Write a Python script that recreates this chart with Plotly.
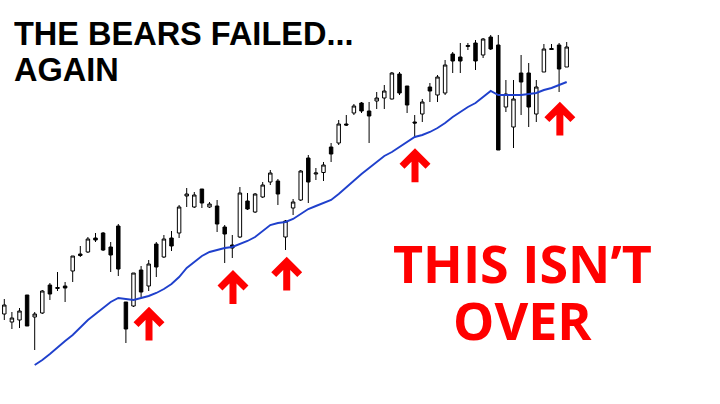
import plotly.graph_objects as go

# ---- data (price units are arbitrary) ----
opens = [90, 82, 84, 109, 87, 91, 119, 115.5, 118, 133, 150, 152, 166, 171, 157, 178, 102, 98, 134, 118,
         160, 147, 166, 171, 208, 197, 215, 197, 198, 177, 159, 167, 203, 192, 207, 222, 223, 167, 196, 204,
         246, 230, 231.5, 257, 261, 280, 291, 301, 293, 303, 306, 305, 330, 318, 282, 290, 317, 309, 311, 350,
         347, 357.5, 361, 349, 367, 359, 297, 277, 331, 331, 290, 332, 355.5, 359, 337]
highs = [105, 92, 96, 109, 92, 114, 121, 132, 122, 148, 158, 167, 171, 172, 162, 180, 102, 131, 138, 144,
         162, 169, 173, 199, 216, 212, 215, 202, 204, 179, 169, 217, 211, 211, 222, 234, 225, 184, 205, 234,
         249, 236, 242, 261, 284, 289, 300, 302, 302, 312, 319, 332, 332, 318, 289, 305, 321, 329, 344, 352,
         361, 361, 364, 366, 369, 369, 324, 324, 349, 341, 324, 360, 360, 361, 362]
lows = [84, 75, 76, 78, 54, 90, 104, 113, 102, 122, 147, 151, 162, 153, 132, 128, 61, 97, 107, 113,
        127, 146, 153, 166, 197, 196, 196, 196, 172, 141, 146, 166, 194, 191, 206, 219, 199, 154, 189, 203,
        201, 224, 223, 242, 259, 278, 289, 291, 261, 295, 295, 304.5, 309, 291, 266, 282, 302, 302, 309, 331,
        331, 354, 334, 346, 354, 254, 292, 256, 289, 277, 282, 332, 354, 312, 337]
closes = [99, 86, 93, 78, 90, 113, 110, 116.5, 116, 148, 148.5, 165, 164, 154, 149, 135, 75, 131, 112, 140,
          137, 165, 158, 197, 210, 209, 201, 200, 180, 170, 156, 211, 195, 210, 219, 231, 210, 183, 202, 233,
          222, 231, 239, 250, 280, 279, 298, 293, 288, 306, 313, 331, 311, 299, 281, 302, 313, 327, 339, 343,
          343, 358.5, 343, 365, 355, 254, 310, 305, 322, 297, 317, 355, 354.5, 335, 357]

# moving average, starting at candle 4
ma_start = 4
ma_values = [39, 44, 50, 57, 63, 69, 77, 84, 90, 96, 102, 106, 105, 104, 106, 108, 111, 115, 120, 127,
             136, 142, 148, 152, 154, 156, 157, 160, 163, 167, 173, 179, 181, 182, 185, 190, 195, 198, 201, 204,
             210, 217, 224, 230, 236, 242, 248, 252, 257, 262, 267, 269, 272, 276, 281, 287, 292, 297, 301, 307,
             313, 309, 309, 309, 309, 310, 311, 314, 316, 319, 322]

# arrows: candle index and tip price
arrow_idx = [19.04, 30.09, 37.16, 54.04, 73.1]
arrow_tip = [92.4, 129, 142.4, 250.7, 297.4]

title_lines = ["THE BEARS FAILED...", "AGAIN"]
slogan_lines = ["THIS ISN\u2019T", "OVER"]

# ---- figure ----
n = len(opens)
xs = list(range(n))
PX = 7.6  # pixels per candle step

fig = go.Figure()
fig.add_trace(go.Candlestick(
    x=xs, open=opens, high=highs, low=lows, close=closes,
    increasing=dict(line=dict(color="#000000", width=1), fillcolor="#ffffff"),
    decreasing=dict(line=dict(color="#000000", width=1), fillcolor="#000000"),
    whiskerwidth=0, hoverinfo="skip", showlegend=False,
))
fig.add_trace(go.Scatter(
    x=list(range(ma_start, ma_start + len(ma_values))), y=ma_values,
    mode="lines", line=dict(color="#1f40cc", width=1.9), hoverinfo="skip", showlegend=False,
))

# arrow outline in pixel offsets relative to anchor (y down)
h = 3.5
a = 13.0
d = h * 2 ** 0.5 / 2
poly = [(0, -h * 2 ** 0.5), (a + d, a - d), (a - d, a + d), (h, h + h * 2 ** 0.5), (h, 29),
        (-h, 29), (-h, h + h * 2 ** 0.5), (-(a - d), a + d), (-(a + d), a - d)]
for ix, tp in zip(arrow_idx, arrow_tip):
    pts = [(ix + dx / PX, tp - dy) for dx, dy in poly]
    path = "M " + " L ".join(f"{px:.3f},{py:.3f}" for px, py in pts) + " Z"
    fig.add_shape(type="path", path=path, xref="x", yref="y",
                  fillcolor="#ff0000", line=dict(width=0), layer="above")

# texts (fixed box heights so the two lines of each block sit tight)
title_font = dict(family="Liberation Sans, Arial, sans-serif", size=32.5, color="#000000")
slogan_font = dict(family="Open Sans, Noto Sans, sans-serif", size=52, color="#ff0000")
for txt, yc in zip(title_lines, [34, 70]):
    fig.add_annotation(text=f"<b>{txt}</b>", xref="paper", yref="paper",
                       x=12 / 720, y=1 - yc / 404, xanchor="left", yanchor="middle",
                       height=34, valign="middle", showarrow=False, font=title_font)
for txt, yc in zip(slogan_lines, [262, 319]):
    fig.add_annotation(text=f"<b>{txt}</b>", xref="paper", yref="paper",
                       x=522 / 720, y=1 - yc / 404, xanchor="center", yanchor="middle",
                       height=54, valign="middle", showarrow=False, font=slogan_font)

x0 = -4.3 / PX
fig.update_layout(
    width=720, height=404, margin=dict(l=0, r=0, t=0, b=0),
    paper_bgcolor="#ffffff", plot_bgcolor="#ffffff",
    xaxis=dict(range=[x0, x0 + 720 / PX], visible=False, rangeslider=dict(visible=False), fixedrange=True),
    yaxis=dict(range=[0, 404], visible=False, fixedrange=True),
    showlegend=False, boxgap=0.35,
)
fig.write_html("out.html", config={"displayModeBar": False},
               post_script="document.body.style.margin='0';document.body.style.overflow='hidden';")
